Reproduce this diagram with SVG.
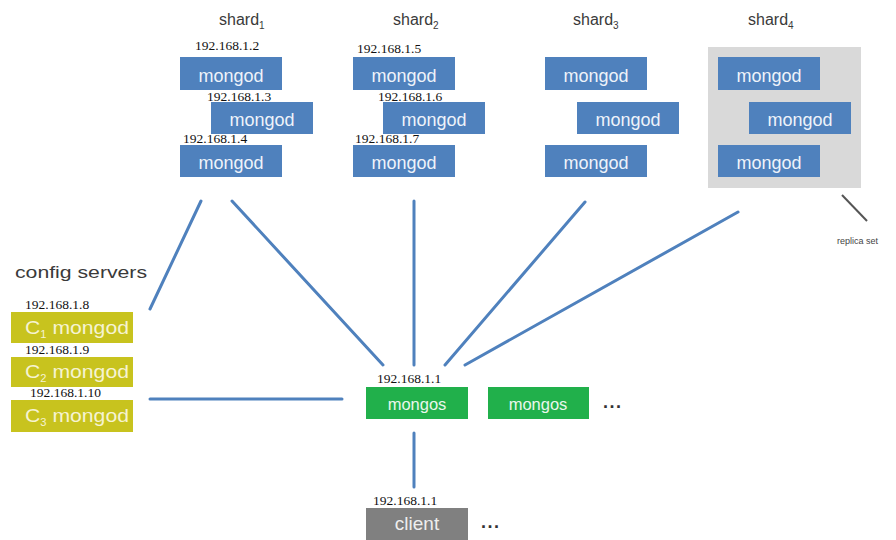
<svg xmlns="http://www.w3.org/2000/svg" width="896" height="540" viewBox="0 0 896 540">
<style>
.lbl{font-family:"Liberation Sans",Arial,sans-serif;font-size:16px;fill:#3a3a3a}
.sub{font-size:10px}
.ip{font-family:"Liberation Serif","Times New Roman",serif;font-size:13.5px;fill:#111}
.md{fill:#4f81bd}
.mdt{font-family:"Liberation Sans",Arial,sans-serif;font-size:18px;fill:#eef3fa;text-anchor:middle}
.cfg{fill:#c8c31e}
.cfgt{font-family:"Liberation Sans",Arial,sans-serif;font-size:19px;fill:#f6f3d2}
.ms{fill:#21b04b}
.mst{font-family:"Liberation Sans",Arial,sans-serif;font-size:16.5px;fill:#e9f7ec;text-anchor:middle}
.dots{font-family:"Liberation Sans",Arial,sans-serif;font-size:18px;font-weight:bold;fill:#333;letter-spacing:1.5px}
.conn line{stroke:#4f81bd;stroke-width:3;stroke-linecap:round}
</style>
<rect width="896" height="540" fill="#ffffff"/>

<g id="shard1">
<text class="lbl" x="219" y="25">shard<tspan class="sub" dy="4">1</tspan></text>
<text class="ip" x="195" y="50">192.168.1.2</text>
<rect class="md" x="180" y="57" width="102" height="33"/>
<text class="mdt" x="231" y="82">mongod</text>
<text class="ip" x="207" y="101">192.168.1.3</text>
<rect class="md" x="211" y="102" width="102" height="32"/>
<text class="mdt" x="262" y="126">mongod</text>
<text class="ip" x="183" y="143">192.168.1.4</text>
<rect class="md" x="180" y="145" width="102" height="32"/>
<text class="mdt" x="231" y="169">mongod</text>
</g>

<g id="shard2">
<text class="lbl" x="393" y="25">shard<tspan class="sub" dy="4">2</tspan></text>
<text class="ip" x="357" y="53">192.168.1.5</text>
<rect class="md" x="353" y="57" width="102" height="33"/>
<text class="mdt" x="404" y="82">mongod</text>
<text class="ip" x="378" y="101">192.168.1.6</text>
<rect class="md" x="383" y="102" width="102" height="32"/>
<text class="mdt" x="434" y="126">mongod</text>
<text class="ip" x="355" y="143">192.168.1.7</text>
<rect class="md" x="353" y="145" width="102" height="32"/>
<text class="mdt" x="404" y="169">mongod</text>
</g>

<g id="shard3">
<text class="lbl" x="573" y="25">shard<tspan class="sub" dy="4">3</tspan></text>
<rect class="md" x="545" y="57" width="102" height="33"/>
<text class="mdt" x="596" y="82">mongod</text>
<rect class="md" x="577" y="102" width="102" height="32"/>
<text class="mdt" x="628" y="126">mongod</text>
<rect class="md" x="545" y="145" width="102" height="32"/>
<text class="mdt" x="596" y="169">mongod</text>
</g>

<g id="shard4">
<text class="lbl" x="748" y="25">shard<tspan class="sub" dy="4">4</tspan></text>
<rect x="708" y="47" width="153" height="141" fill="#d9d9d9"/>
<rect class="md" x="718" y="57" width="102" height="33"/>
<text class="mdt" x="769" y="82">mongod</text>
<rect class="md" x="749" y="102" width="102" height="32"/>
<text class="mdt" x="800" y="126">mongod</text>
<rect class="md" x="718" y="145" width="102" height="32"/>
<text class="mdt" x="769" y="169">mongod</text>
</g>

<g id="replica-set-note">
<line x1="842" y1="195" x2="867" y2="221" stroke="#555" stroke-width="2"/>
<text x="837" y="244" font-family="Liberation Sans,Arial,sans-serif" font-size="9" fill="#444">replica set</text>
</g>

<g id="config-servers">
<text class="lbl" x="15" y="278" textLength="132" lengthAdjust="spacingAndGlyphs">config servers</text>
<text class="ip" x="25" y="309">192.168.1.8</text>
<rect class="cfg" x="11" y="312" width="122" height="31"/>
<text class="cfgt" x="25" y="334" textLength="104" lengthAdjust="spacingAndGlyphs">C<tspan class="sub" dy="4">1</tspan><tspan dy="-4"> mongod</tspan></text>
<text class="ip" x="25" y="354">192.168.1.9</text>
<rect class="cfg" x="11" y="357" width="122" height="30"/>
<text class="cfgt" x="25" y="378" textLength="104" lengthAdjust="spacingAndGlyphs">C<tspan class="sub" dy="4">2</tspan><tspan dy="-4"> mongod</tspan></text>
<text class="ip" x="30" y="397">192.168.1.10</text>
<rect class="cfg" x="11" y="400" width="122" height="32"/>
<text class="cfgt" x="25" y="422" textLength="104" lengthAdjust="spacingAndGlyphs">C<tspan class="sub" dy="4">3</tspan><tspan dy="-4"> mongod</tspan></text>
</g>

<g id="mongos1">
<text class="ip" x="377" y="383">192.168.1.1</text>
<rect class="ms" x="366" y="387" width="102" height="32"/>
<text class="mst" x="417" y="410">mongos</text>
</g>

<g id="mongos2">
<rect class="ms" x="488" y="387" width="101" height="32"/>
<text class="mst" x="538" y="410">mongos</text>
<text class="dots" x="603" y="408">...</text>
</g>

<g id="client">
<text class="ip" x="373" y="505">192.168.1.1</text>
<rect x="366" y="508" width="102" height="32" fill="#808080"/>
<text x="417" y="530" font-family="Liberation Sans,Arial,sans-serif" font-size="19" fill="#eeeeee" text-anchor="middle">client</text>
<text class="dots" x="481" y="528">...</text>
</g>

<g id="connectors" class="conn">
<line x1="201" y1="201" x2="150" y2="309"/>
<line x1="232" y1="201" x2="383" y2="365"/>
<line x1="414" y1="201" x2="414" y2="365"/>
<line x1="585" y1="202" x2="445" y2="365"/>
<line x1="738" y1="212" x2="465" y2="365"/>
<line x1="150" y1="399" x2="342" y2="399"/>
<line x1="414" y1="433" x2="414" y2="487"/>
</g>
</svg>
